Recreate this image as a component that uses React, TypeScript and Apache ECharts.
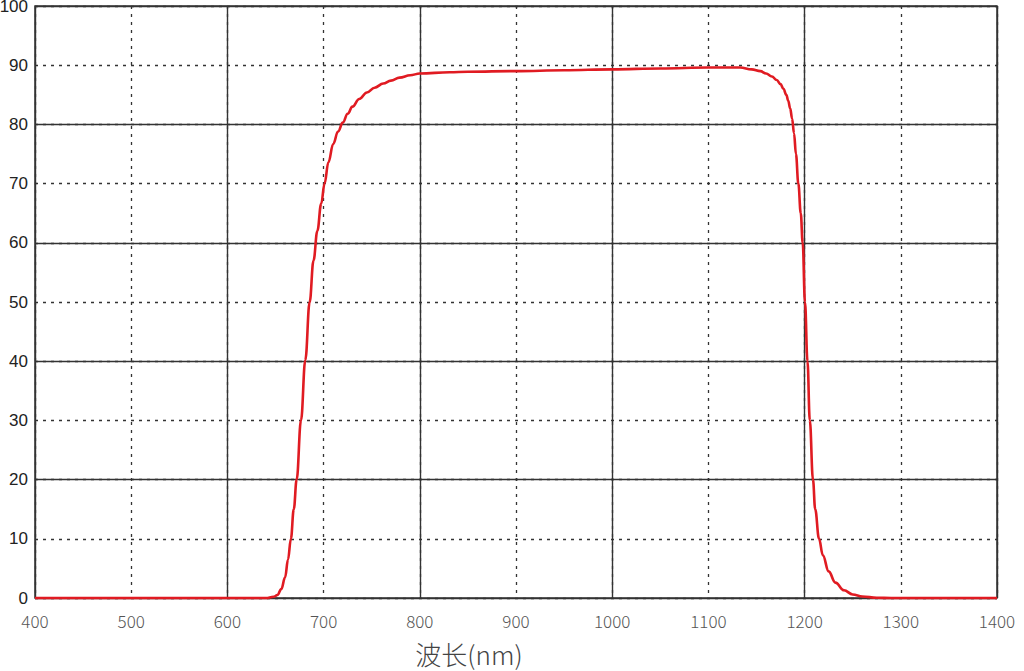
import React, { useEffect, useRef } from 'react';
import * as echarts from 'echarts';

// wavelength (nm) and transmittance (%)
const wavelengths = [
  400, 500, 600, 640, 648, 652, 656, 660, 663, 666, 669, 672, 676.5, 681, 685.5, 689.5, 693.5, 697.5, 701, 705,
  710, 715, 720, 725, 730, 737, 745, 753, 762, 770, 779, 790, 800, 831, 850, 900, 950, 1000, 1050, 1100,
  1133, 1145, 1154, 1160, 1166, 1171, 1175, 1178, 1181, 1183, 1185, 1187, 1189, 1191, 1193.5, 1196, 1198,
  1200.4, 1203, 1205.4, 1208.7, 1211, 1215, 1219, 1225, 1232, 1241, 1250, 1260, 1275, 1290, 1400,
];
const transmittance = [
  0, 0, 0, 0, 0.2, 0.5, 1.5, 3.5, 6.5, 10, 15, 20, 30, 40.2, 50, 57, 62, 66.6, 70, 73.6,
  76.7, 78.8, 80.3, 81.8, 83.0, 84.3, 85.4, 86.2, 86.9, 87.4, 87.9, 88.3, 88.6, 88.8, 88.9, 89.0, 89.15, 89.3, 89.45, 89.6,
  89.6, 89.3, 89.0, 88.6, 88.1, 87.5, 86.8, 86.0, 85.0, 84.0, 82.7, 81.0, 78.5, 75, 70, 65, 60,
  50, 40, 30, 20, 15, 10, 7.2, 4.5, 2.6, 1.3, 0.6, 0.25, 0.05, 0, 0,
];

const xAxisName = '波长(nm)';

const gridColor = '#333';
const dashStyle = { color: gridColor, width: 1.3, type: [3, 5] as number[] };
const solidStyle = { color: gridColor, width: 1.4, type: 'solid' as const };

const App: React.FC = () => {
  const chartRef = useRef<HTMLDivElement | null>(null);

  useEffect(() => {
    if (!chartRef.current) return;
    const chart = echarts.init(chartRef.current, undefined, { renderer: 'svg' });

    const option = {
      animation: false,
      backgroundColor: '#fff',
      grid: {
        left: 35,
        right: 27,
        top: 6,
        bottom: 73,
        show: true,
        borderColor: gridColor,
        borderWidth: 1.5,
        containLabel: false,
        outerBoundsMode: 'none',
      },
      xAxis: [
        {
          type: 'value',
          min: 400,
          max: 1400,
          interval: 100,
          axisLine: { show: false },
          axisTick: { show: false },
          axisLabel: {
            margin: 14,
            fontSize: 17,
            color: '#555',
            fontFamily: 'Noto Sans CJK SC',
            fontWeight: 300,
            formatter: (v: number) => String(v),
          },
          splitLine: { show: true, lineStyle: dashStyle },
        },
        {
          type: 'value',
          min: 400,
          max: 1400,
          interval: 200,
          position: 'bottom',
          axisLine: { show: false },
          axisTick: { show: false },
          axisLabel: { show: false },
          splitLine: { show: true, lineStyle: solidStyle },
        },
      ],
      yAxis: [
        {
          type: 'value',
          min: 0,
          max: 100,
          interval: 10,
          axisLine: { show: false },
          axisTick: { show: false },
          axisLabel: {
            margin: 7,
            fontSize: 17,
            color: '#222',
            fontFamily: 'Liberation Sans',
          },
          splitLine: { show: true, lineStyle: dashStyle },
        },
        {
          type: 'value',
          min: 0,
          max: 100,
          interval: 20,
          position: 'left',
          axisLine: { show: false },
          axisTick: { show: false },
          axisLabel: { show: false },
          splitLine: { show: true, lineStyle: solidStyle },
        },
      ],
      graphic: [
        {
          type: 'text',
          x: 469,
          y: 653,
          style: {
            text: xAxisName,
            fontSize: 26,
            fontFamily: 'Noto Sans CJK SC',
            fontWeight: 300,
            fill: '#444',
            textAlign: 'center',
            textVerticalAlign: 'middle',
          },
        },
      ],
      series: [
        {
          type: 'line',
          xAxisIndex: 0,
          yAxisIndex: 0,
          data: wavelengths.map((w, i) => [w, transmittance[i]]),
          showSymbol: false,
          smooth: 0.4,
          smoothMonotone: 'x',
          clip: false,
          lineStyle: { color: '#e01b22', width: 2.6 },
          z: 5,
        },
      ],
    };

    chart.setOption(option);
    return () => {
      chart.dispose();
    };
  }, []);

  return (
    <div
      ref={chartRef}
      style={{ position: 'fixed', left: 0, top: 0, width: '1024px', height: '671px', background: '#fff' }}
    />
  );
};

export default App;
